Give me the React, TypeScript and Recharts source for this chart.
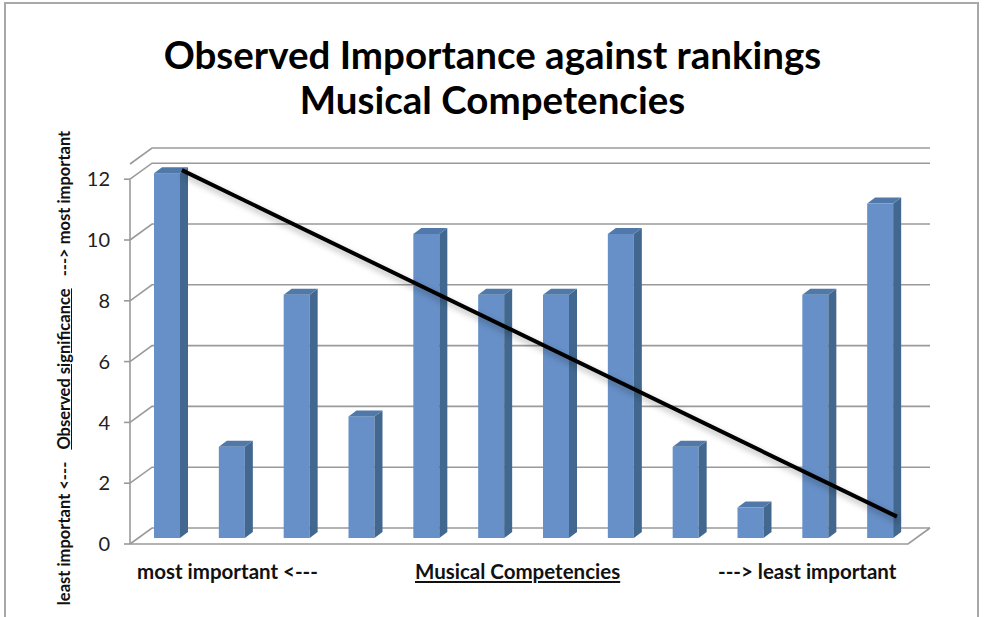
import { ComposedChart, Bar, Line, XAxis, YAxis, CartesianGrid, ReferenceLine } from 'recharts';

const categories = ['1', '2', '3', '4', '5', '6', '7', '8', '9', '10', '11', '12'];
const observed = [12, 3, 8, 4, 10, 8, 8, 10, 3, 1, 8, 11];
const yTicks = [0, 2, 4, 6, 8, 10, 12];
// hand drawn trend line (x in category units)
const trendX = [0.8, 11.83];
const trendY = [12.3, 0.9];

const data = categories.map((c, i) => ({ name: c, value: observed[i] }));
const trendData = trendX.map((x, i) => ({ x, y: trendY[i] }));

const FONT = 'Lato, "Open Sans", sans-serif';
const GRID = '#9a9a9a';
const BACK_DX = 22;
const BACK_DY = -16;

// bar with a bit of fake 3d: front, side and top faces
const Bar3D = (props: any) => {
  const { x, y, width, height } = props;
  if (height == null || height <= 0) return null;
  const fx = x + 5;
  const fy = y - 6;
  const d = 8;
  const e = 6;
  return (
    <g>
      <rect x={fx} y={fy} width={width} height={height} fill="#6790C8" />
      <polygon
        points={`${fx + width},${fy} ${fx + width + d},${fy - e} ${fx + width + d},${fy + height - e} ${fx + width},${fy + height}`}
        fill="#42688F"
      />
      <polygon
        points={`${fx},${fy} ${fx + d},${fy - e} ${fx + width + d},${fy - e} ${fx + width},${fy}`}
        fill="#5079A9"
      />
    </g>
  );
};

const GridLine = (props: any) => {
  const { x1, x2, y1 } = props;
  const bx1 = x1 + BACK_DX;
  const bx2 = x2 + BACK_DX;
  const by = y1 + BACK_DY;
  const isFloor = Math.abs(y1 - 544) < 3;
  return (
    <g key={`g-${y1}`}>
      <polyline points={`${x1},${y1} ${bx1},${by} ${bx2},${by}`} fill="none" stroke={GRID} strokeWidth={1.6} />
      {isFloor && (
        <polyline points={`${x1},${y1} ${x2},${y1} ${bx2},${by}`} fill="none" stroke={GRID} strokeWidth={1.6} />
      )}
    </g>
  );
};

const labelStyle = {
  position: 'absolute' as const,
  top: 559,
  fontWeight: 700,
  fontSize: 20.5,
  color: '#111',
  whiteSpace: 'nowrap' as const,
};

export default function App() {
  return (
    <div style={{ position: 'absolute', left: 0, top: 0, width: 985, height: 617, background: '#fff', overflow: 'hidden', fontFamily: FONT }}>
      <div style={{ position: 'absolute', left: 4, top: 2, width: 971, height: 640, border: '2px solid #a8a8a8' }} />
      <div style={{ position: 'absolute', left: 0, top: 32, width: 985, textAlign: 'center', fontWeight: 700, fontSize: 38.5, lineHeight: '45px', color: '#000' }}>
        Observed Importance against rankings
        <br />
        Musical Competencies
      </div>

      <ComposedChart
        width={985}
        height={617}
        data={data}
        margin={{ top: 164, right: 77, bottom: 73, left: 0 }}
        style={{ position: 'absolute', left: 0, top: 0 }}
      >
        <CartesianGrid vertical={false} horizontal={(p: any) => <GridLine {...p} />} />
        <XAxis dataKey="name" hide />
        <XAxis xAxisId="trend" type="number" dataKey="x" domain={[0, 12]} hide />
        <YAxis
          domain={[0, 12.5]}
          ticks={yTicks}
          width={130}
          axisLine={false}
          tickLine={{ stroke: GRID, strokeWidth: 1.6 }}
          tickSize={6}
          tickMargin={14}
          tick={{ fontSize: 20, fill: '#222', fontFamily: FONT }}
        />
        <ReferenceLine
          xAxisId="trend"
          segment={[{ x: 0, y: 0 }, { x: 0, y: 12 }]}
          stroke={GRID}
          strokeWidth={1.6}
        />
        <Bar dataKey="value" barSize={26} shape={Bar3D} isAnimationActive={false} />
        <Line
          xAxisId="trend"
          data={trendData}
          dataKey="y"
          stroke="#000"
          strokeWidth={4}
          dot={false}
          activeDot={false}
          isAnimationActive={false}
          style={{ filter: 'drop-shadow(2px 4px 3px rgba(0,0,0,0.3))' }}
        />
      </ComposedChart>

      <div
        style={{
          position: 'absolute',
          left: 64,
          top: 368,
          transform: 'translate(-50%, -50%) rotate(-90deg)',
          whiteSpace: 'nowrap',
          fontWeight: 700,
          fontSize: 16.5,
          color: '#111',
        }}
      >
        least important {'<---'}&nbsp;&nbsp;&nbsp;<span style={{ textDecoration: 'underline' }}>Observed significance</span>&nbsp;&nbsp;&nbsp;{'--->'} most important
      </div>

      <div style={{ ...labelStyle, left: 137 }}>most important {'<---'}</div>
      <div style={{ ...labelStyle, left: 415, textDecoration: 'underline' }}>Musical Competencies</div>
      <div style={{ ...labelStyle, left: 718 }}>{'--->'} least important</div>
    </div>
  );
}
